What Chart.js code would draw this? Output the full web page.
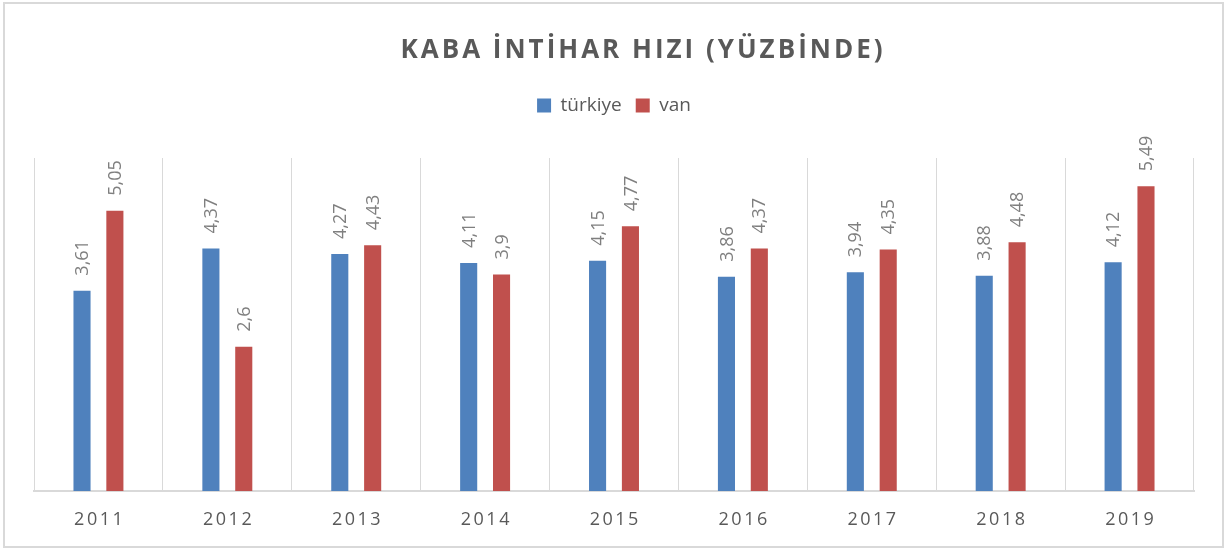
<!DOCTYPE html>
<html>
<head>
<meta charset="utf-8">
<script src="https://cdn.jsdelivr.net/npm/chart.js@4/dist/chart.umd.min.js"></script>
<style>
  body { margin: 0; background: #fff; }
  #wrap { width: 1229px; height: 550px; position: relative; }
</style>
</head>
<body>
<div id="wrap"><canvas id="grafico" width="1229" height="550"></canvas></div>
<script>
// dados do gráfico
const anos = ['2011', '2012', '2013', '2014', '2015', '2016', '2017', '2018', '2019'];
const turkiye = [3.61, 4.37, 4.27, 4.11, 4.15, 3.86, 3.94, 3.88, 4.12];
const van = [5.05, 2.6, 4.43, 3.9, 4.77, 4.37, 4.35, 4.48, 5.49];
const titulo = 'KABA İNTİHAR HIZI (YÜZBİNDE)';
const eixoYMin = 0;
const eixoYMax = 6;

const corTexto = '#595959';
const corRotulo = '#7f7f7f';
const corGrade = '#d9d9d9';

function formata(v) {
    return String(v).replace('.', ',');
}

// desenha título, rótulos das barras, rótulos do eixo x e borda
const extras = {
    id: 'extras',
    beforeInit(chart) {
        // espaço extra abaixo da legenda
        const fitOriginal = chart.legend.fit;
        chart.legend.fit = function() {
            fitOriginal.call(this);
            this.height += 33;
        };
    },
    afterDatasetsDraw(chart) {
        const ctx = chart.ctx;
        chart.data.datasets.forEach(function(ds, i) {
            chart.getDatasetMeta(i).data.forEach(function(barra, j) {
                ctx.save();
                ctx.translate(barra.x, barra.y - 15);
                ctx.rotate(-Math.PI / 2);
                ctx.font = '18px "Open Sans"';
                ctx.fillStyle = corRotulo;
                ctx.textAlign = 'left';
                ctx.textBaseline = 'middle';
                ctx.fillText(formata(ds.data[j]), 0, 1);
                ctx.restore();
            });
        });
    },
    afterDraw(chart) {
        const ctx = chart.ctx;
        ctx.save();
        // título
        ctx.font = 'bold 26px "Open Sans"';
        ctx.fillStyle = corTexto;
        ctx.textAlign = 'center';
        ctx.textBaseline = 'alphabetic';
        ctx.letterSpacing = '3px';
        ctx.fillText(titulo, 643, 58);
        // rótulos do eixo x
        const x = chart.scales.x;
        ctx.font = '18px "Open Sans"';
        ctx.letterSpacing = '2.5px';
        anos.forEach(function(ano, i) {
            ctx.fillText(ano, x.getPixelForTick(i) + 1.25, 525);
        });
        ctx.letterSpacing = '0px';
        // borda externa
        ctx.strokeStyle = corGrade;
        ctx.lineWidth = 2;
        ctx.strokeRect(4, 3, 1219, 544);
        ctx.restore();
    }
};

document.addEventListener('DOMContentLoaded', function() {
    const ctx = document.getElementById('grafico').getContext('2d');
    new Chart(ctx, {
        type: 'bar',
        data: {
            labels: anos,
            datasets: [{
                label: 'türkiye',
                data: turkiye,
                backgroundColor: '#4f81bd',
                barPercentage: 0.52,
                categoryPercentage: 0.51
            }, {
                label: 'van',
                data: van,
                backgroundColor: '#c0504d',
                barPercentage: 0.52,
                categoryPercentage: 0.51
            }]
        },
        plugins: [extras],
        options: {
            responsive: false,
            animation: false,
            devicePixelRatio: 1,
            layout: {
                padding: { left: 34, right: 35, top: 82, bottom: 0 }
            },
            plugins: {
                legend: {
                    display: true,
                    position: 'top',
                    labels: {
                        color: corTexto,
                        font: { family: '"Open Sans"', size: 19 },
                        boxWidth: 14,
                        boxHeight: 14,
                        padding: 14
                    }
                },
                title: { display: false },
                tooltip: { enabled: false }
            },
            scales: {
                x: {
                    grid: {
                        display: true,
                        color: corGrade,
                        lineWidth: 1,
                        offset: true,
                        drawTicks: false
                    },
                    border: { display: true, color: corGrade, width: 2 },
                    ticks: { color: 'rgba(0,0,0,0)', font: { size: 18 } },
                    afterFit: function(s) { s.height = 59; }
                },
                y: {
                    display: false,
                    min: eixoYMin,
                    max: eixoYMax
                }
            }
        }
    });
});
</script>
</body>
</html>
